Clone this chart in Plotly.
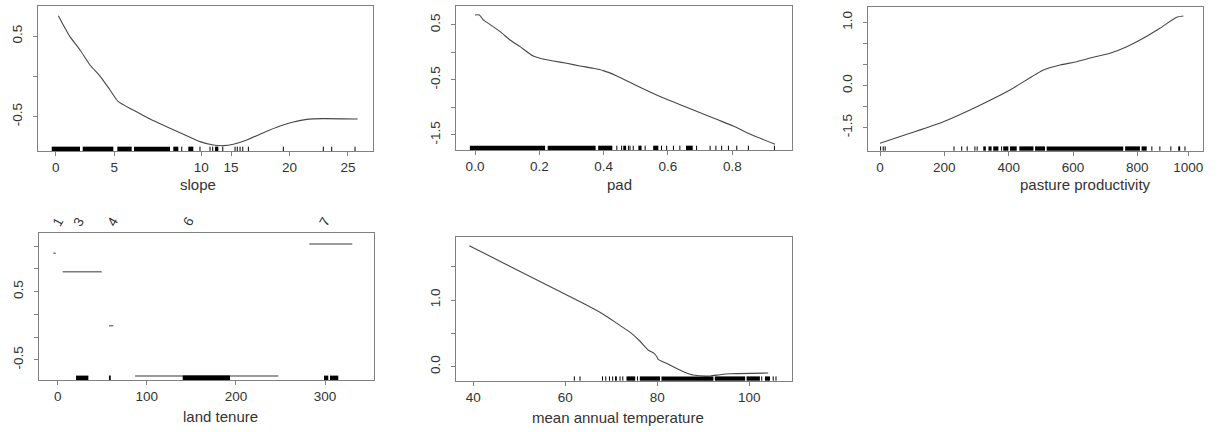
import plotly.graph_objects as go

W, H = 1218, 432

# ---------------- data ----------------
slope_x = [0.23, 0.65, 1.22, 2.08, 2.93, 3.79, 4.65, 5.36, 6.64, 8.07, 9.49, 10.92,
           12.34, 13.48, 14.34, 15.20, 16.34, 17.76, 19.19, 20.33, 21.47, 22.89, 25.83]
slope_y = [0.752, 0.636, 0.492, 0.327, 0.141, 0.004, -0.169, -0.314, -0.417, -0.529,
           -0.624, -0.718, -0.809, -0.851, -0.859, -0.842, -0.789, -0.698, -0.616,
           -0.566, -0.533, -0.524, -0.529]
slope_rug_blocks = [[-0.34, 2.08], [2.31, 4.93], [5.27, 6.5], [6.7, 9.78], [10.06, 10.49],
                    [11.34, 11.77], [13.63, 13.91]]
slope_rug_ticks = [10.78, 12.34, 13.2, 13.43, 14.29, 15.34, 15.53, 15.77, 16.0, 16.48,
                   19.47, 22.89, 23.61, 25.6]

pad_x = [0.0, 0.0135, 0.026, 0.038, 0.078, 0.109, 0.140, 0.181, 0.202, 0.244, 0.285,
         0.326, 0.368, 0.399, 0.441, 0.492, 0.544, 0.596, 0.648, 0.679, 0.751, 0.803,
         0.855, 0.933]
pad_y = [0.682, 0.682, 0.591, 0.542, 0.379, 0.227, 0.106, -0.064, -0.106, -0.155,
         -0.197, -0.245, -0.288, -0.330, -0.427, -0.573, -0.718, -0.852, -0.973,
         -1.045, -1.215, -1.336, -1.482, -1.670]
pad_rug_blocks = [[-0.016, 0.218], [0.226, 0.375], [0.383, 0.427], [0.461, 0.470],
                  [0.508, 0.518], [0.554, 0.570], [0.656, 0.677]]
pad_rug_ticks = [0.441, 0.456, 0.477, 0.482, 0.492, 0.529, 0.580, 0.596, 0.617, 0.637,
                 0.689, 0.731, 0.749, 0.767, 0.788, 0.814, 0.850, 0.931]

past_x = [0, 93, 197, 301, 404, 508, 560, 611, 663, 715, 767, 818, 870, 922, 943]
past_y = [-1.870, -1.633, -1.358, -1.002, -0.606, -0.131, -0.013, 0.066, 0.170, 0.265,
          0.421, 0.620, 0.858, 1.119, 1.149]
past_rug_blocks = [[321, 329], [337, 347], [352, 368], [383, 399], [404, 425], [433, 477],
                   [482, 513], [518, 756], [762, 808], [813, 829], [927, 933]]
past_rug_ticks = [2, 10, 16, 230, 254, 271, 295, 302, 378, 845, 870, 904, 948]

tenure_levels = ["1", "3", "4", "6", "7"]
tenure_start = [-4.9, 5.6, 57.6, 86.8, 282.4]
tenure_end = [-2.2, 49.4, 62.4, 247.6, 330.6]
tenure_y = [1.062, 0.793, 0.002, -0.734, 1.198]
tenure_label_x = [0.7, 24, 62, 147, 300]
tenure_rug_blocks = [[20.6, 34.4], [57.6, 59.5], [140.3, 193.4], [298.9, 303.7], [305.6, 314.9]]
tenure_rug_ticks = []

temp_x = [39.13, 64.3, 68.4, 71.2, 74.4, 76.2, 78.0, 79.3, 79.9, 80.2, 82.0, 85.7,
          87.8, 91.5, 93.6, 95.8, 104.1]
temp_y = [1.814, 0.935, 0.78, 0.65, 0.50, 0.385, 0.25, 0.20, 0.15, 0.11, 0.05,
          -0.075, -0.125, -0.14, -0.12, -0.105, -0.095]
temp_rug_blocks = [[70.8, 71.2], [73.3, 75.2], [76.2, 80.6], [80.9, 92.2], [92.5, 99.1],
                   [99.4, 102.3], [103.4, 104.5]]
temp_rug_ticks = [61.96, 63.2, 68.1, 68.8, 69.6, 70.3, 71.9, 72.5, 75.7, 102.7, 105.2, 105.8]

# tick labels
slope_xtick_vals = [0, 5, 12.46, 15, 20, 25]
slope_xtick_text = ["0", "5", "10", "15", "20", "25"]
slope_ytick_vals = [0.5, 0, -0.5]
slope_ytick_text = ["0.5", "", "-0.5"]
pad_xtick_vals = [0, 0.2, 0.4, 0.6, 0.8]
pad_xtick_text = ["0.0", "0.2", "0.4", "0.6", "0.8"]
pad_ytick_vals = [0.5, 0, -0.5, -1.0, -1.5]
pad_ytick_text = ["0.5", "", "-0.5", "", "-1.5"]
past_xtick_vals = [0, 200, 400, 600, 800, 958]
past_xtick_text = ["0", "200", "400", "600", "800", "1000"]
past_ytick_vals = [1.0, 0.5, 0.0, -0.5, -1.0, -1.5]
past_ytick_text = ["1.0", "", "", "0.0", "", "-1.5"]
ten_xtick_vals = [0, 100, 200, 300]
ten_xtick_text = ["0", "100", "200", "300"]
ten_ytick_vals = [7 / 6, 5 / 6, 0.5, 1 / 6, -1 / 6, -0.5]
ten_ytick_text = ["", "", "0.5", "", "", "-0.5"]
temp_xtick_vals = [40, 60, 80, 100]
temp_xtick_text = ["40", "60", "80", "100"]
temp_ytick_vals = [1.5, 1.0, 0.5, 0.0]
temp_ytick_text = ["", "1.0", "", "0.0"]

# ---------------- styling ----------------
FONT = "Liberation Sans, Arial, sans-serif"
TXT = "#333333"
FRAME = "#808080"
CURVE = "#474747"

fig = go.Figure()

panels = [
    dict(box=(38, 373, 6, 151), xr=[-1.514, 27.14], yr=[-0.925, 0.872],
         xt=(slope_xtick_vals, slope_xtick_text), yt=(slope_ytick_vals, slope_ytick_text),
         title="slope", tpos=(198, 185)),
    dict(box=(456, 792, 6, 150), xr=[-0.0591, 0.9857], yr=[-1.773, 0.845],
         xt=(pad_xtick_vals, pad_xtick_text), yt=(pad_ytick_vals, pad_ytick_text),
         title="pad", tpos=(619, 185)),
    dict(box=(868, 1203, 6.7, 150.7), xr=[-37.3, 1004], yr=[-2.046, 1.37],
         xt=(past_xtick_vals, past_xtick_text), yt=(past_ytick_vals, past_ytick_text),
         title="pasture productivity", tpos=(1085, 185)),
    dict(box=(39, 374, 233.3, 380), xr=[-21, 355], yr=[-0.793, 1.355],
         xt=(ten_xtick_vals, ten_xtick_text), yt=(ten_ytick_vals, ten_ytick_text),
         title="land tenure", tpos=(220.7, 416.7)),
    dict(box=(456, 792, 237.3, 380.7), xr=[36.24, 109.28], yr=[-0.21, 1.94],
         xt=(temp_xtick_vals, temp_xtick_text), yt=(temp_ytick_vals, temp_ytick_text),
         title="mean annual temperature", tpos=(618.3, 417.3)),
]

curves = [(slope_x, slope_y), (pad_x, pad_y), (past_x, past_y), None, (temp_x, temp_y)]
rugs = [(slope_rug_blocks, slope_rug_ticks), (pad_rug_blocks, pad_rug_ticks),
        (past_rug_blocks, past_rug_ticks), (tenure_rug_blocks, tenure_rug_ticks),
        (temp_rug_blocks, temp_rug_ticks)]

shapes = []
annotations = []
layout_axes = {}
for i, p in enumerate(panels):
    k = "" if i == 0 else str(i + 1)
    xa, ya = "x" + k, "y" + k
    l, r, t, b = p["box"]
    common = dict(showline=True, mirror=True, linecolor=FRAME, linewidth=1,
                  showgrid=False, zeroline=False, ticks="outside", ticklen=4,
                  tickcolor=FRAME, tickwidth=1,
                  tickfont=dict(family=FONT, size=13.5, color=TXT), tickmode="array",
                  fixedrange=True)
    layout_axes["xaxis" + k] = dict(common, domain=[l / W, r / W], range=p["xr"],
                                    anchor=ya, tickvals=p["xt"][0], ticktext=p["xt"][1])
    layout_axes["yaxis" + k] = dict(common, domain=[1 - b / H, 1 - t / H], range=p["yr"],
                                    anchor=xa, tickvals=p["yt"][0], ticktext=p["yt"][1],
                                    tickangle=-90, ticklabelstandoff=6)
    if curves[i] is not None:
        cx, cy = curves[i]
        fig.add_trace(go.Scatter(x=cx, y=cy, mode="lines", xaxis=xa, yaxis=ya,
                                 line=dict(color=CURVE, width=1.1, shape="spline",
                                           smoothing=0.6),
                                 hoverinfo="skip", showlegend=False))
    blocks, ticks = rugs[i]
    for a, c in blocks:
        shapes.append(dict(type="rect", xref=xa, yref=ya + " domain", x0=a, x1=c,
                           y0=0, y1=0.03, fillcolor="black", line=dict(width=0),
                           layer="above"))
    for v in ticks:
        shapes.append(dict(type="line", xref=xa, yref=ya + " domain", x0=v, x1=v,
                           y0=0, y1=0.03, line=dict(color="black", width=1),
                           layer="above"))
    annotations.append(dict(text=p["title"], xref="paper", yref="paper",
                            x=p["tpos"][0] / W, y=1 - p["tpos"][1] / H,
                            xanchor="center", yanchor="middle", showarrow=False,
                            font=dict(family=FONT, size=15, color=TXT)))

# land tenure level segments
seg_x, seg_y = [], []
for s, e, v in zip(tenure_start, tenure_end, tenure_y):
    seg_x += [s, e, None]
    seg_y += [v, v, None]
fig.add_trace(go.Scatter(x=seg_x, y=seg_y, mode="lines", xaxis="x4", yaxis="y4",
                         line=dict(color="#7a7a7a", width=1.5), hoverinfo="skip",
                         showlegend=False))
for lab, lx in zip(tenure_levels, tenure_label_x):
    annotations.append(dict(text=lab, xref="x4", yref="paper", x=lx, y=1 - 221.7 / H,
                            xanchor="center", yanchor="middle", showarrow=False,
                            textangle=-60,
                            font=dict(family=FONT, size=13.5, color=TXT)))

fig.update_layout(width=W, height=H, margin=dict(l=0, r=0, t=0, b=0),
                  paper_bgcolor="white", plot_bgcolor="white",
                  shapes=shapes, annotations=annotations, showlegend=False,
                  **layout_axes)

fig.write_html("out.html", config={"displayModeBar": False})
